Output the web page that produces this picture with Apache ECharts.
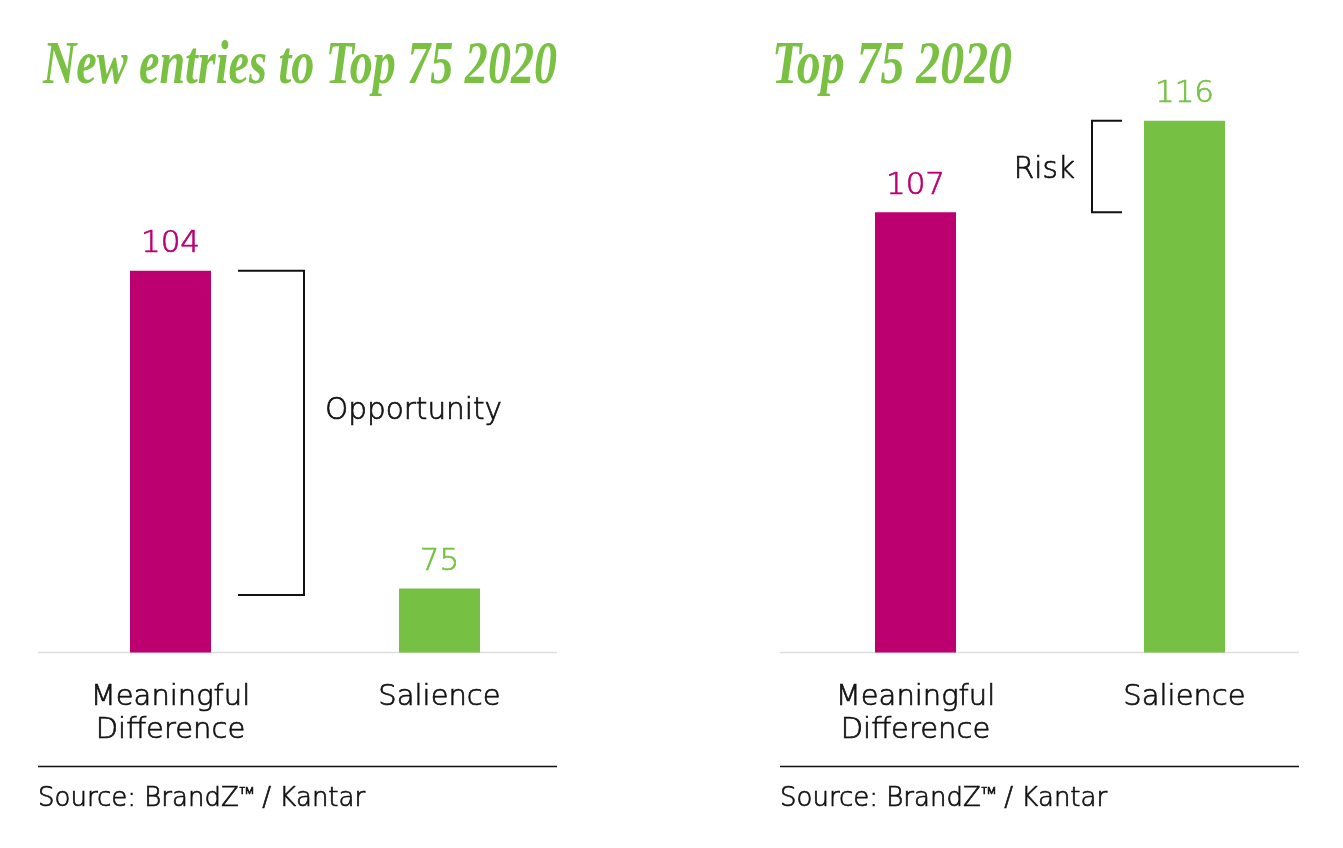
<!DOCTYPE html>
<html>
<head>
<meta charset="utf-8">
<script src="https://cdn.jsdelivr.net/npm/echarts@6/dist/echarts.min.js"></script>
<style>
html,body{margin:0;padding:0;background:#fff;}
#chart{width:1343px;height:848px;}
</style>
</head>
<body>
<div id="chart"></div>
<script>
const categories = ['Meaningful\nDifference', 'Salience'];
const newEntriesValues = [104, 75];
const top75Values = [107, 116];
const opportunityRange = [104, 74.4];
const riskRange = [116, 107];
const titles = ['New entries to Top 75 2020', 'Top 75 2020'];
const sourceText = 'Source: BrandZ\u2122 / Kantar';

const MAGENTA = '#BC0070';
const GREEN = '#76C043';
const TITLE_GREEN = '#7AC143';
const INK = '#111111';
const FONT = '"DejaVu Sans", Inter, sans-serif';
const TITLE_FONT = '"Liberation Serif", "DejaVu Serif", serif';
const THICK = 0.7;

const chart = echarts.init(document.getElementById('chart'));

function barSeries(values, idx) {
  return {
    type: 'bar',
    xAxisIndex: idx, yAxisIndex: idx,
    barWidth: 81,
    data: values.map((v, i) => ({
      value: v,
      itemStyle: { color: i === 0 ? MAGENTA : GREEN },
      label: { color: i === 0 ? MAGENTA : GREEN, textBorderColor: i === 0 ? MAGENTA : GREEN }
    })),
    label: {
      show: true, position: 'top', distance: 11,
      fontFamily: FONT, fontWeight: 200, fontSize: 31, textBorderWidth: THICK
    },
    silent: true
  };
}

const xAxisBase = {
  type: 'category', data: categories, boundaryGap: true,
  axisLine: { show: false }, axisTick: { show: false },
  axisLabel: { fontFamily: FONT, fontWeight: 200, fontSize: 29, lineHeight: 33, color: INK, textBorderColor: INK, textBorderWidth: THICK, margin: 28, interval: 0 }
};
const yAxisBase = { type: 'value', show: false, splitLine: { show: false } };

chart.setOption({
  animation: false,
  grid: [
    { left: 36, width: 538, top: 100, height: 552.5 },
    { left: 781, width: 538, top: 100, height: 552.5 }
  ],
  xAxis: [ Object.assign({ gridIndex: 0 }, xAxisBase), Object.assign({ gridIndex: 1 }, xAxisBase) ],
  yAxis: [ Object.assign({ gridIndex: 0, min: 69.15, max: 119.6 }, yAxisBase), Object.assign({ gridIndex: 1, min: 63.7, max: 118.05 }, yAxisBase) ],
  series: [ barSeries(newEntriesValues, 0), barSeries(top75Values, 1) ]
});

function px(gi, cat, v) { return chart.convertToPixel({ gridIndex: gi }, [cat, v]); }

const measureCtx = document.createElement('canvas').getContext('2d');
function textWidth(text, font) { measureCtx.font = font; return measureCtx.measureText(text).width; }

function inkText(x, y, text, size, align) {
  return { type: 'text', x: x, y: y, style: { text: text, fontFamily: FONT, fontWeight: 200, fontSize: size, fill: INK, stroke: INK, lineWidth: THICK, verticalAlign: 'middle', align: align || 'left' } };
}

const graphics = [];
// titles (condensed to the width of the hand-lettered originals)
const TITLE_SIZE = 62;
[[titles[0], 43, 514], [titles[1], 772, 240]].forEach(([t, x, w]) => {
  const natural = textWidth(t, 'italic bold ' + TITLE_SIZE + 'px ' + TITLE_FONT);
  graphics.push({ type: 'text', x: x, y: 67, scaleX: w / natural,
    style: { text: t, fontFamily: TITLE_FONT, fontStyle: 'italic', fontWeight: 'bold', fontSize: TITLE_SIZE, fill: TITLE_GREEN, verticalAlign: 'middle' } });
});

// baselines, separators, sources
[[38, 557], [780, 1299]].forEach(([x1, x2], gi) => {
  const base = px(gi, 0, gi === 0 ? 69.15 : 63.7)[1];
  graphics.push({ type: 'line', shape: { x1: x1, y1: base, x2: x2, y2: base }, style: { stroke: '#dddddd', lineWidth: 1.5 } });
  graphics.push({ type: 'line', shape: { x1: x1, y1: 766.5, x2: x2, y2: 766.5 }, style: { stroke: INK, lineWidth: 1.3 } });
  graphics.push(inkText(x1, 799, sourceText, 26));
});

// Opportunity bracket (right of first bar, opening left)
{
  const top = px(0, 0, opportunityRange[0])[1];
  const bot = px(0, 0, opportunityRange[1])[1];
  const cx = px(0, 0, opportunityRange[0])[0];
  const xl = cx + 40.5 + 27, xr = cx + 40.5 + 93;
  graphics.push({ type: 'polyline', shape: { points: [[xl, top], [xr, top], [xr, bot], [xl, bot]] }, style: { stroke: INK, lineWidth: 2, fill: null } });
  graphics.push(inkText(xr + 21, top + 0.42 * (bot - top) + 4, 'Opportunity', 29.5));
}
// Risk bracket (left of second bar, opening right)
{
  const top = px(1, 1, riskRange[0])[1];
  const bot = px(1, 1, riskRange[1])[1];
  const cx = px(1, 1, riskRange[0])[0];
  const xr = cx - 40.5 - 22, xl = cx - 40.5 - 52;
  graphics.push({ type: 'polyline', shape: { points: [[xr, top], [xl, top], [xl, bot], [xr, bot]] }, style: { stroke: INK, lineWidth: 2, fill: null } });
  graphics.push(inkText(xl - 17, (top + bot) / 2 + 4, 'Risk', 29.5, 'right'));
}

chart.setOption({ graphic: graphics });
</script>
</body>
</html>
